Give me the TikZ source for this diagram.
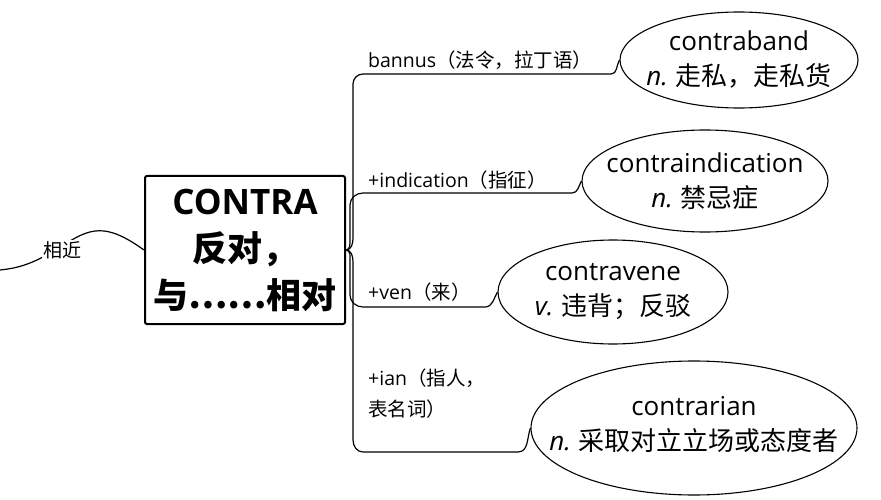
\documentclass[tikz,border=0pt]{standalone}
\usepackage{fontspec}
\setmainfont{Noto Sans CJK SC}
\newfontfamily\lf{Open Sans}
\usetikzlibrary{shapes.geometric}
\begin{document}
\begin{tikzpicture}[x=1pt,y=-1pt,
  conn/.style={line width=1.2pt},
  lab/.style={font=\fontsize{19.5}{31}\selectfont, inner sep=0pt, anchor=base west, align=left},
  ell/.style={draw, ellipse, line width=1.1pt, inner sep=0pt},
  etext/.style={inner sep=0pt, align=center, font=\fontsize{26}{35}\selectfont},
  root/.style={draw, line width=2pt, rounded corners=2pt, inner sep=0pt, align=center, font=\fontsize{35}{47}\selectfont\bfseries}
]
\useasboundingbox (0,0) rectangle (881,500);

\node[root, minimum width=200pt, minimum height=148pt] (box) at (245,250) {{\lf CONTRA}\\反对，\\与……相对};

% ellipses
\node[ell, minimum width=238pt, minimum height=96pt] (e1) at (739,60) {};
\node[ell, minimum width=246pt, minimum height=102pt] (e2) at (705,181) {};
\node[ell, minimum width=230pt, minimum height=104pt] (e3) at (613,292) {};
\node[ell, minimum width=326pt, minimum height=134pt] (e4) at (694,428) {};
\node[etext] (t1) at (e1.center) {{\lf contraband}\\{\lf\itshape n.} 走私，走私货};
\node[etext] (t2) at (e2.center) {{\lf contraindication}\\{\lf\itshape n.} 禁忌症};
\node[etext] (t3) at (e3.center) {{\lf contravene}\\{\lf\itshape v.} 违背；反驳};
\node[etext] (t4) at ([yshift=3pt]e4.center) {{\lf contrarian}\\{\lf\itshape n.} 采取对立立场或态度者};

% branch labels
\node[lab] (l1) at (368,68) {{\lf bannus}（法令，拉丁语）};
\node[lab] (l2) at (368,187) {{\lf +indication}（指征）};
\node[lab] (l3) at (368,299) {{\lf +ven}（来）};
\node[lab] (l4) at (368,416) {{\lf +ian}（指人，\\表名词）};

% underline coordinates
\coordinate (a1) at (363,74);  \coordinate (z1) at (611,74);
\coordinate (a2) at (363,193); \coordinate (z2) at (572,193);
\coordinate (a3) at (363,307); \coordinate (z3) at (485,307);
\coordinate (a4) at (363,452); \coordinate (z4) at (518,452);

\draw[conn] (box.east) to[out=0,in=-90] (353,238) -- (353,84) to[out=90,in=180] (a1) -- (z1) to[out=0,in=-120] (e1.west);
\draw[conn] (box.east) to[out=0,in=-90] (350,240) -- (350,205) to[out=90,in=180] (a2) -- (z2) to[out=0,in=-120] (e2.west);
\draw[conn] (box.east) to[out=0,in=90] (350,262) -- (350,295) to[out=-90,in=180] (a3) -- (z3) to[out=0,in=-120] (e3.west);
\draw[conn] (box.east) to[out=0,in=90] (353,262) -- (353,440) to[out=-90,in=180] (a4) -- (z4) to[out=0,in=-110] (e4.west);

% left connector
\coordinate (lend) at (0,270);
\draw[conn] (box.west) .. controls (105,222) and (90,228) .. (62,246) .. controls (35,263) and (20,268) .. (lend);
\node[fill=white, inner sep=1pt, font=\fontsize{19}{22}\selectfont] (near) at (62,250) {相近};
\end{tikzpicture}
\end{document}
